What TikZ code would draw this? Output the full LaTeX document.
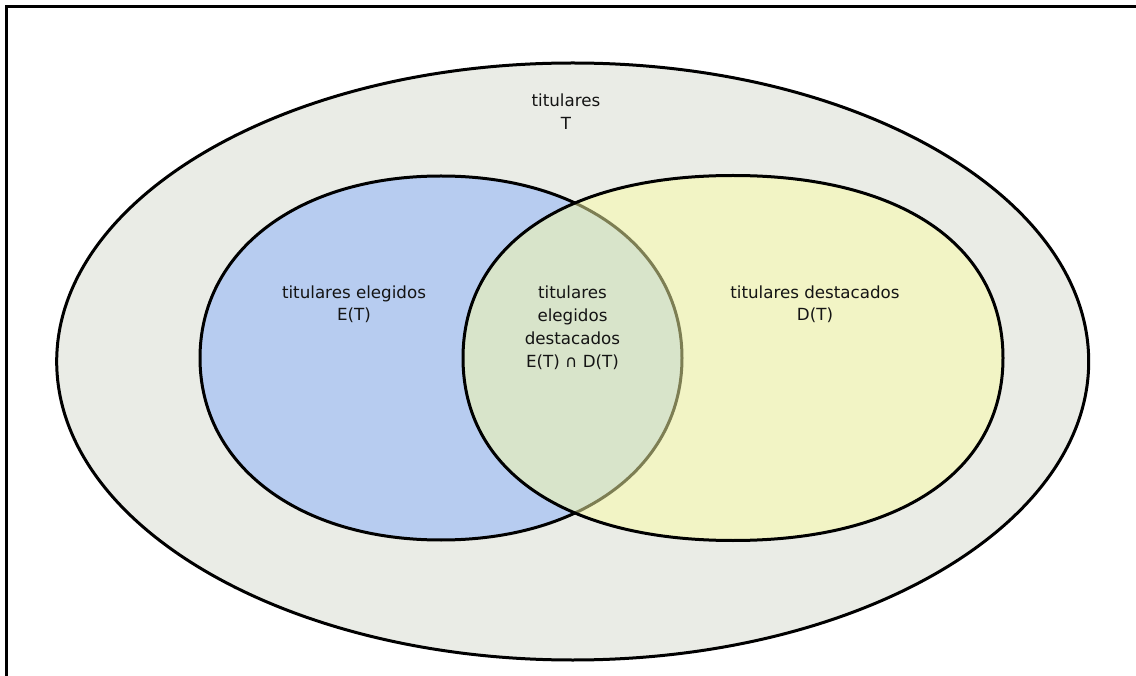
\documentclass[tikz,border=0pt]{standalone}
\usepackage{fontspec}
\setmainfont{DejaVu Sans}
\definecolor{outerfill}{RGB}{234,236,230}
\definecolor{elegfill}{RGB}{183,204,240}
\definecolor{destfill}{RGB}{250,252,166}
\definecolor{txt}{RGB}{20,20,20}
% a rounded oval through four Bezier quarters; #5 is the control-arm factor
\newcommand\ovalpath[5]{%
  ({#1+#3},{#2})
  .. controls ({#1+#3},{#2-#5*#4}) and ({#1+#5*#3},{#2-#4}) .. ({#1},{#2-#4})
  .. controls ({#1-#5*#3},{#2-#4}) and ({#1-#3},{#2-#5*#4}) .. ({#1-#3},{#2})
  .. controls ({#1-#3},{#2+#5*#4}) and ({#1-#5*#3},{#2+#4}) .. ({#1},{#2+#4})
  .. controls ({#1+#5*#3},{#2+#4}) and ({#1+#3},{#2+#5*#4}) .. cycle}
\begin{document}
\begin{tikzpicture}[x=1pt,y=-1pt,
  setline/.style={draw=black,line width=3pt},
  lbl/.style={align=center,inner sep=0pt,text=txt,
    font=\fontsize{16.7}{22.7}\selectfont}]
\useasboundingbox (0,0) rectangle (1136,676);
% frame
\coordinate (fbl) at (6.5,680);
\coordinate (ftl) at (6.5,6.5);
\coordinate (ftr) at (1140,6.5);
\draw[line width=2.6pt] (fbl) -- (ftl) -- (ftr);
% universe T
\draw[setline,fill=outerfill] \ovalpath{572.7}{361.5}{516}{298.5}{0.5523};
% E(T)
\draw[setline,fill=elegfill] \ovalpath{441}{358}{241}{182}{0.59};
% D(T), translucent fill over E(T)
\draw[setline,fill=destfill,fill opacity=0.5] \ovalpath{733}{358}{270}{182.5}{0.62};
% labels
\node[lbl] (tT) at (566,111.7) {titulares\\T};
\node[lbl] (tE) at (354,304.2) {titulares elegidos\\E(T)};
\node[lbl] (tD) at (815,304.2) {titulares destacados\\D(T)};
\node[lbl] (tED) at (572.5,327.8) {titulares\\elegidos\\destacados\\E(T) ∩ D(T)};
\end{tikzpicture}
\end{document}
